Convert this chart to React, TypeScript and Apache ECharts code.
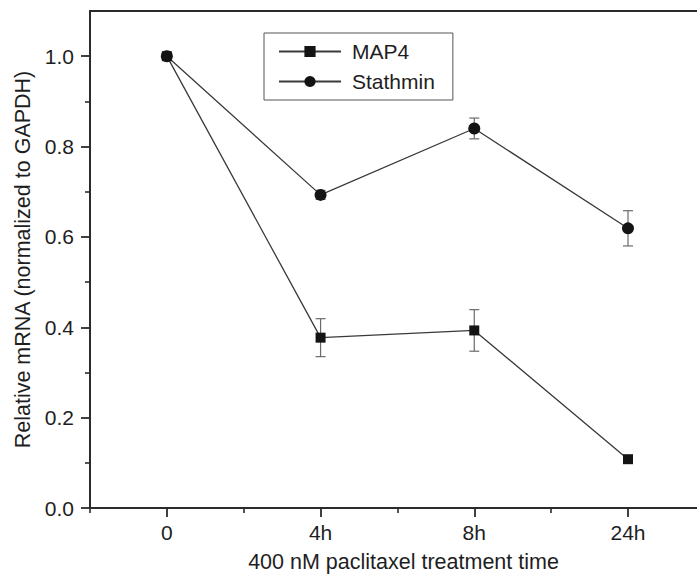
import React, { useEffect, useRef } from "react";
import * as echarts from "echarts";

// Time points (category index on a value axis) and their tick labels
const timeIndex = [0, 1, 2, 3];
const timeLabels = ["0", "4h", "8h", "24h"];

// Relative mRNA levels (normalized to GAPDH)
const map4Mean = [1.0, 0.377, 0.393, 0.108];
const map4Err = [0.005, 0.042, 0.046, 0.005];
const stathminMean = [1.0, 0.693, 0.84, 0.619];
const stathminErr = [0.005, 0.01, 0.023, 0.039];

// Y axis tick values
const yMajorTicks = [0, 0.2, 0.4, 0.6, 0.8, 1.0];
const yMinorTicks = [0.1, 0.3, 0.5, 0.7, 0.9];
const xMinorTicks = [-0.5, 0.5, 1.5, 2.5];

const FONT = "'Liberation Sans', Arial, Helvetica, sans-serif";
const INK = "#2b2b2b";
const TEXT = "#1e1e1e";

function errorRows(mean: number[], err: number[]) {
  return timeIndex.map((x, i) => [x, mean[i] - err[i], mean[i] + err[i]]);
}

function renderErrorBar(params: any, api: any) {
  const x = api.value(0);
  const lo = api.coord([x, api.value(1)]);
  const hi = api.coord([x, api.value(2)]);
  const half = 5;
  const style = { stroke: "#6a6a6a", lineWidth: 1.2 };
  return {
    type: "group",
    children: [
      { type: "line", shape: { x1: lo[0], y1: lo[1], x2: hi[0], y2: hi[1] }, style },
      { type: "line", shape: { x1: hi[0] - half, y1: hi[1], x2: hi[0] + half, y2: hi[1] }, style },
      { type: "line", shape: { x1: lo[0] - half, y1: lo[1], x2: lo[0] + half, y2: lo[1] }, style },
    ],
  };
}

export default function App() {
  const ref = useRef<HTMLDivElement>(null);

  useEffect(() => {
    if (!ref.current) return;
    const chart = echarts.init(ref.current, undefined, { renderer: "svg" });

    const xMin = -0.5;
    const xMax = 3.449;
    const yMin = 0;
    const yMax = 1.1;

    chart.setOption({
      animation: false,
      backgroundColor: "#ffffff",
      textStyle: { fontFamily: FONT },
      grid: { left: 90, top: 11, right: 0, bottom: 65, containLabel: false },
      legend: {
        orient: "vertical",
        left: 264,
        top: 33,
        padding: [8, 18, 8, 14],
        itemWidth: 62,
        itemHeight: 14,
        itemGap: 9,
        borderColor: "#555555",
        borderWidth: 1,
        textStyle: { fontFamily: FONT, fontSize: 21, color: TEXT, padding: [0, 0, 0, 6] },
        data: ["MAP4", "Stathmin"],
      },
      xAxis: [
        {
          type: "value",
          position: "bottom",
          min: xMin,
          max: xMax,
          interval: 0.5,
          name: "400 nM paclitaxel treatment time",
          nameLocation: "middle",
          nameGap: 43,
          nameTextStyle: { fontFamily: FONT, fontSize: 21.5, color: TEXT, padding: [0, 0, 0, 20] },
          axisLine: { show: true, onZero: false, lineStyle: { color: INK, width: 2 } },
          axisTick: { show: true, customValues: timeIndex, length: 9, lineStyle: { color: INK, width: 1.8 } },
          axisLabel: {
            customValues: timeIndex,
            margin: 14,
            fontFamily: FONT,
            fontSize: 21,
            color: TEXT,
            formatter: (v: number) => {
              const i = timeIndex.indexOf(Math.round(v));
              return i >= 0 && Math.abs(v - Math.round(v)) < 1e-6 ? timeLabels[i] : "";
            },
          },
          splitLine: { show: false },
        },
        {
          type: "value",
          position: "bottom",
          min: xMin,
          max: xMax,
          interval: 0.5,
          axisLine: { show: false, onZero: false },
          axisTick: { show: true, customValues: xMinorTicks, length: 5, lineStyle: { color: INK, width: 1.6 } },
          axisLabel: { show: false },
          splitLine: { show: false },
        },
        {
          type: "value",
          position: "top",
          min: xMin,
          max: xMax,
          axisLine: { show: true, onZero: false, lineStyle: { color: INK, width: 2 } },
          axisTick: { show: false },
          axisLabel: { show: false },
          splitLine: { show: false },
        },
      ],
      yAxis: [
        {
          type: "value",
          position: "left",
          min: yMin,
          max: yMax,
          interval: 0.1,
          name: "Relative mRNA (normalized to GAPDH)",
          nameLocation: "middle",
          nameGap: 56,
          nameTextStyle: { fontFamily: FONT, fontSize: 21.5, color: TEXT },
          axisLine: { show: true, onZero: false, lineStyle: { color: INK, width: 2 } },
          axisTick: { show: true, customValues: yMajorTicks, length: 9, lineStyle: { color: INK, width: 1.8 } },
          axisLabel: {
            customValues: yMajorTicks,
            margin: 16,
            fontFamily: FONT,
            fontSize: 21,
            color: TEXT,
            formatter: (v: number) => v.toFixed(1),
          },
          splitLine: { show: false },
        },
        {
          type: "value",
          position: "left",
          min: yMin,
          max: yMax,
          interval: 0.1,
          axisLine: { show: false, onZero: false },
          axisTick: { show: true, customValues: yMinorTicks, length: 5, lineStyle: { color: INK, width: 1.6 } },
          axisLabel: { show: false },
          splitLine: { show: false },
        },
      ],
      series: [
        {
          name: "MAP4 error",
          type: "custom",
          xAxisIndex: 0,
          yAxisIndex: 0,
          renderItem: renderErrorBar,
          encode: { x: 0, y: [1, 2] },
          data: errorRows(map4Mean, map4Err),
          z: 1,
          silent: true,
        },
        {
          name: "Stathmin error",
          type: "custom",
          xAxisIndex: 0,
          yAxisIndex: 0,
          renderItem: renderErrorBar,
          encode: { x: 0, y: [1, 2] },
          data: errorRows(stathminMean, stathminErr),
          z: 1,
          silent: true,
        },
        {
          name: "MAP4",
          type: "line",
          xAxisIndex: 0,
          yAxisIndex: 0,
          data: timeIndex.map((x, i) => [x, map4Mean[i]]),
          symbol: "rect",
          symbolSize: 10,
          showAllSymbol: true,
          itemStyle: { color: "#141414" },
          lineStyle: { color: "#3a3a3a", width: 1.3 },
          z: 3,
        },
        {
          name: "Stathmin",
          type: "line",
          xAxisIndex: 0,
          yAxisIndex: 0,
          data: timeIndex.map((x, i) => [x, stathminMean[i]]),
          symbol: "circle",
          symbolSize: 12,
          showAllSymbol: true,
          itemStyle: { color: "#141414" },
          lineStyle: { color: "#3a3a3a", width: 1.3 },
          z: 3,
        },
      ],
    });

    return () => chart.dispose();
  }, []);

  return (
    <div
      ref={ref}
      style={{ position: "fixed", left: 0, top: 0, width: 697, height: 578, background: "#fff" }}
    />
  );
}
